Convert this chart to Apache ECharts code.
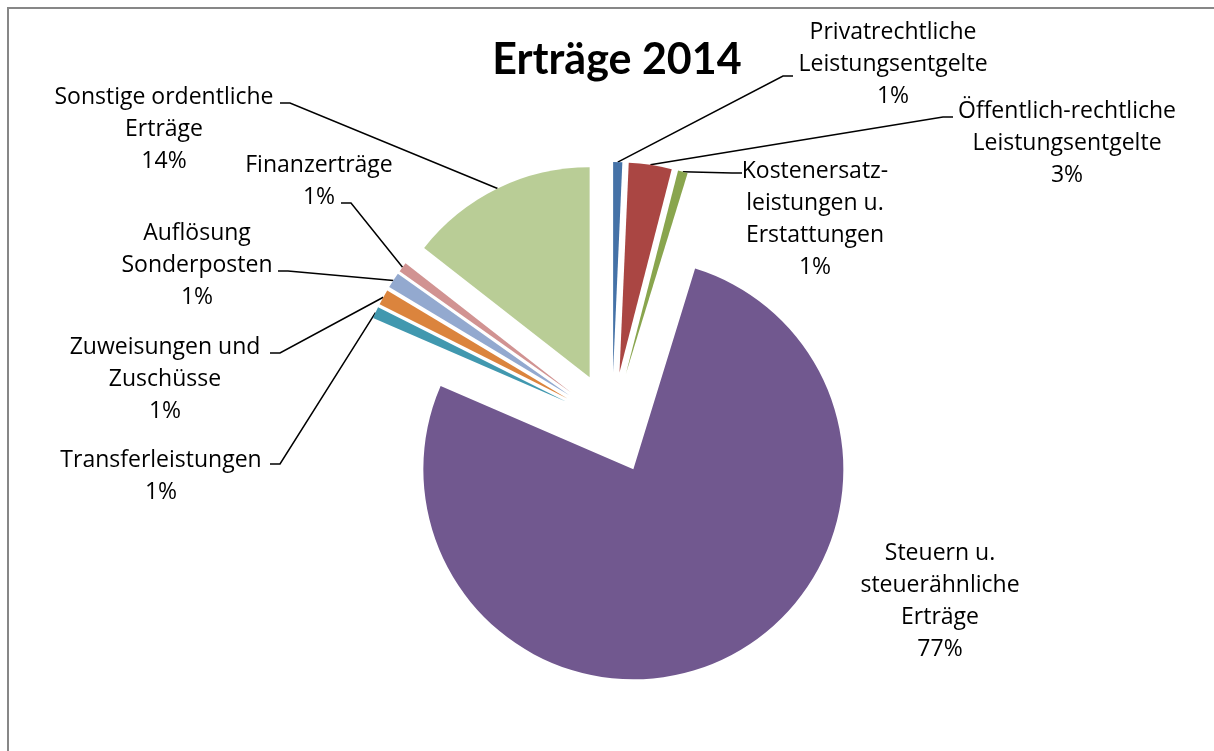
<!DOCTYPE html>
<html>
<head>
<meta charset="utf-8">
<script src="https://cdn.jsdelivr.net/npm/echarts@6/dist/echarts.min.js"></script>
<style>
  html, body { margin: 0; padding: 0; background: #fff; }
  #chart { width: 1214px; height: 751px; }
</style>
</head>
<body>
<div id="chart"></div>
<script>
// Erträge 2014 – shares in percent, clockwise from 12 o'clock
const categories = [
  "Privatrechtliche\nLeistungsentgelte",
  "Öffentlich-rechtliche\nLeistungsentgelte",
  "Kostenersatz-\nleistungen u.\nErstattungen",
  "Steuern u.\nsteuerähnliche\nErträge",
  "Transferleistungen",
  "Zuweisungen und\nZuschüsse",
  "Auflösung\nSonderposten",
  "Finanzerträge",
  "Sonstige ordentliche\nErträge",
];
const values = [0.7, 3.3, 0.75, 76.75, 0.9, 1.2, 1.2, 0.75, 14.45];
const colors = [
  "#4572A7", "#AA4643", "#89A54E", "#71588F", "#4198AF",
  "#DB843D", "#93A9CF", "#D19392", "#B9CD96",
];

// where each label block sits (center x, center y), Excel-like
const labelSpots = [
  [893, 64], [1067, 143], [815, 219], [940, 601], [161, 476],
  [165, 379], [197, 265], [319, 181], [164, 129],
];
// where the leader line touches the label text (none for the big slice)
const leaderEnds = [
  [793, 76], [953, 117], [742, 173], null, [270, 464],
  [270, 353], [278, 271], [341, 203], [280, 103],
];

const pieCenter = [612, 423];
const pieRadius = 210;
const explode = 51; // every slice pulled out by the same distance

const total = values.reduce((a, b) => a + b, 0);

// one pie per slice so each can be pulled out along its own mid angle
// (the selected state would override the label positions)
const series = [];
let acc = 0;
values.forEach((v, i) => {
  const mid = ((acc + v / 2) / total) * 2 * Math.PI;
  acc += v;
  series.push({
    type: "pie",
    center: [
      pieCenter[0] + explode * Math.sin(mid),
      pieCenter[1] - explode * Math.cos(mid),
    ],
    radius: pieRadius,
    startAngle: 90,
    clockwise: true,
    silent: true,
    avoidLabelOverlap: false,
    label: {
      show: true,
      position: "outside",
      fontFamily: "Open Sans",
      fontSize: 23,
      lineHeight: 32,
      color: "#000",
      align: "center",
      formatter: (p) => p.name + "\n" + Math.round(p.percent) + "%",
    },
    labelLine: {
      show: i !== 3,
      length: 10,
      length2: 10,
      lineStyle: { color: "#000", width: 1.5 },
    },
    labelLayout: (params) => {
      if (params.dataIndex !== i) return {};
      const spot = labelSpots[i];
      const out = { x: spot[0], y: spot[1], align: "center", verticalAlign: "middle" };
      const end = leaderEnds[i];
      const arc = params.labelLinePoints && params.labelLinePoints[0];
      if (end && arc) {
        const dir = arc[0] > end[0] ? 1 : -1;
        out.labelLinePoints = [arc, [end[0] + dir * 10, end[1]], end];
      }
      return out;
    },
    data: categories.map((name, j) => ({
      name: name,
      value: values[j],
      itemStyle: { color: j === i ? colors[j] : "rgba(0,0,0,0)" },
      label: { show: j === i },
      labelLine: { show: j === i && i !== 3 },
    })),
  });
});

const chart = echarts.init(document.getElementById("chart"));

chart.setOption({
  animation: false,
  title: {
    text: "Erträge 2014",
    left: 612,
    top: 34,
    textAlign: "center",
    textStyle: {
      fontFamily: "Lato",
      fontWeight: "bold",
      fontSize: 43,
      color: "#000",
    },
  },
  graphic: [
    {
      type: "rect",
      z: -10,
      shape: { x: 8, y: 8, width: 1300, height: 800 },
      style: { fill: "none", stroke: "#878787", lineWidth: 2 },
    },
  ],
  series: series,
});
</script>
</body>
</html>
